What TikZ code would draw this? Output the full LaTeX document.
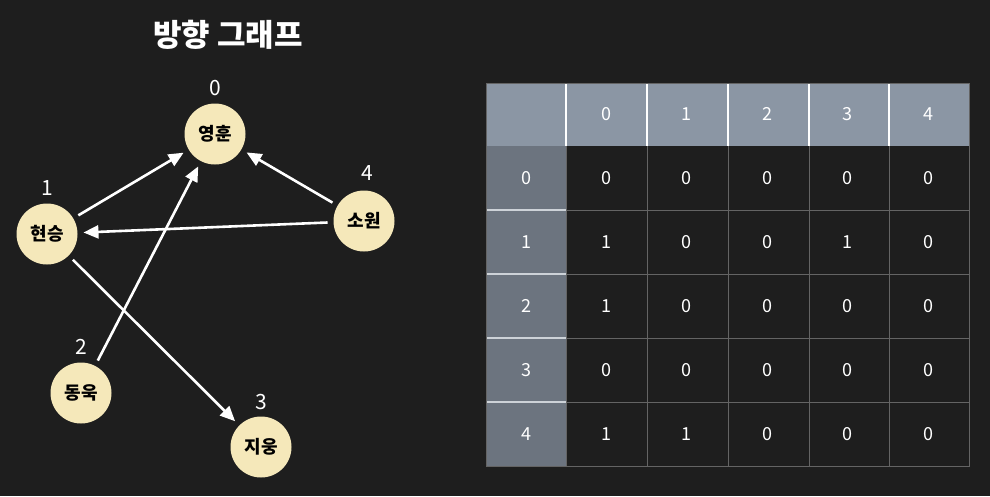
\documentclass[tikz,border=0pt]{standalone}
\usepackage{fontspec}
\setmainfont{Noto Sans CJK KR}
\usetikzlibrary{arrows.meta}

\definecolor{bg}{RGB}{30,30,30}
\definecolor{vtxfill}{RGB}{245,232,186}
\definecolor{headrow}{RGB}{139,150,164}
\definecolor{headcol}{RGB}{108,116,127}
\definecolor{gridline}{RGB}{100,100,100}
\definecolor{headline}{RGB}{205,210,216}

\begin{document}
\begin{tikzpicture}[x=1pt,y=-1pt,
    vtx/.style={circle,fill=vtxfill,minimum size=61pt,inner sep=0pt,outer sep=6pt,font=\fontsize{18}{18}\selectfont\bfseries},
    idx/.style={text=white,font=\fontsize{21}{21}\selectfont},
    edge/.style={draw=white,line width=2.6pt,-{Triangle[length=15pt,width=13pt]}},
    cell/.style={text=white,font=\fontsize{18}{18}\selectfont}]
    \fill[bg](0,0)rectangle(990,496);
    \useasboundingbox(0,0)rectangle(990,496);
    % title
    \node[text=white,font=\fontsize{31}{31}\selectfont\bfseries](title)at(228,35){방향 그래프};
    % graph
    \node[vtx](n0)at(215,134){영훈};
    \node[vtx](n1)at(47,234){현승};
    \node[vtx](n2)at(81,393){동욱};
    \node[vtx](n3)at(261,447){지웅};
    \node[vtx](n4)at(364,221){소원};
    \node[idx](i0)at(215,88){0};
    \node[idx](i1)at(47,188){1};
    \node[idx](i2)at(81,347){2};
    \node[idx](i3)at(261,402){3};
    \node[idx](i4)at(367,173){4};
    \draw[edge](n1)--(n0);
    \draw[edge](n2)--(n0);
    \draw[edge](n4)--(n0);
    \draw[edge](n4)--(n1);
    \draw[edge](n1)--(n3);
    % adjacency matrix
    \fill[headrow](486,83)rectangle(969,146);
    \fill[headcol](486,146)rectangle(566,466);
    \foreach \x in {647,728,809,889}
      \draw[gridline,line width=1pt](\x,146)--(\x,466);
    \foreach \y in {210,274,338,402}
      \draw[gridline,line width=1pt](566,\y)--(969,\y);
    \draw[gridline,line width=1pt](566,146)--(566,466);
    \draw[gridline,line width=1pt](486,83)rectangle(969,466);
    \foreach \x in {566,647,728,809,889}
      \draw[white,line width=1.2pt](\x,84)--(\x,146);
    \foreach \y in {210,274,338,402}
      \draw[headline,line width=1.6pt](487,\y)--(566,\y);
    \foreach \k in {0,...,4}{
      \node[cell](h\k)at(606+80.6*\k,114){\k};
      \node[cell](r\k)at(526,178+64*\k){\k};
    }
    \foreach \row [count=\i from 0] in {{0,0,0,0,0},{1,0,0,1,0},{1,0,0,0,0},{0,0,0,0,0},{1,1,0,0,0}}
      \foreach \v [count=\j from 0] in \row
        \node[cell](c\i\j)at(606+80.6*\j,178+64*\i){\v};
\end{tikzpicture}
\end{document}
